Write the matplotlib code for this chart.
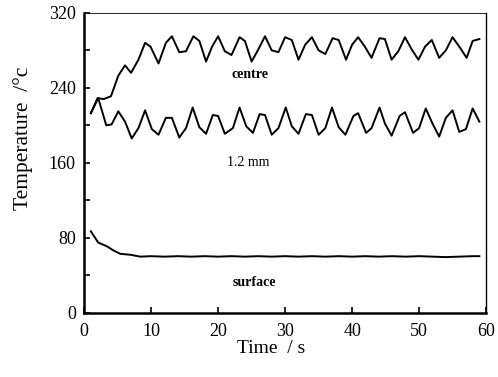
import numpy as np
import matplotlib.pyplot as plt

# centre
t_centre = [1.0, 2.0, 2.9, 4.0, 5.1, 6.1, 7.0, 8.1, 9.1, 9.9, 11.1, 12.2, 13.1, 14.2, 15.2,
            16.3, 17.2, 18.2, 19.1, 20.0, 21.0, 22.0, 23.2, 24.0, 25.0, 26.0, 27.0, 28.0,
            29.0, 30.0, 31.0, 32.0, 33.0, 34.0, 35.0, 36.0, 37.1, 38.0, 39.1, 40.0, 40.9,
            41.9, 42.9, 44.1, 44.9, 45.9, 46.9, 47.9, 48.9, 49.9, 50.9, 51.9, 53.0, 54.0,
            55.0, 56.0, 57.1, 58.0, 59.0]
T_centre = [213, 229, 228, 231, 253, 264, 256, 270, 288, 284, 266, 288, 295, 278, 279,
            295, 290, 268, 284, 295, 279, 275, 294, 290, 268, 281, 295, 280,
            278, 294, 291, 270, 286, 294, 280, 276, 293, 291, 270, 286, 294,
            284, 272, 293, 292, 270, 279, 294, 281, 270, 284, 291, 272, 280,
            294, 284, 272, 290, 292]

# 1.2 mm
t_mid = [1.0, 2.1, 3.3, 4.1, 5.1, 6.1, 7.1, 8.1, 9.1, 10.1, 11.1, 12.2, 13.1, 14.2, 15.2,
         16.2, 17.2, 18.2, 19.2, 20.0, 21.0, 22.2, 23.2, 24.2, 25.2, 26.2, 27.0, 28.0,
         29.0, 30.1, 31.0, 32.0, 33.1, 34.0, 35.0, 36.0, 37.0, 38.0, 39.0, 40.2, 40.9,
         42.1, 42.9, 44.1, 44.9, 45.9, 47.1, 47.9, 49.1, 50.0, 51.0, 52.0, 53.0, 54.0,
         55.0, 56.0, 57.0, 58.0, 59.0]
T_mid = [213, 229, 200, 201, 215, 204, 186, 197, 216, 196, 190, 208, 208, 187, 197,
         219, 198, 191, 211, 210, 191, 197, 219, 199, 192, 212, 211, 190,
         197, 219, 199, 191, 212, 211, 190, 197, 219, 198, 190, 210, 213,
         192, 197, 219, 202, 189, 210, 214, 192, 197, 218, 202, 188, 208,
         216, 193, 196, 218, 204]

# surface
t_surf = [1.0, 2.1, 3.4, 4.4, 5.4, 6.9, 8.4, 9.9, 12, 14, 16, 18, 20, 22, 24, 26, 28,
          30, 32, 34, 36, 38, 40, 42, 44, 46, 48, 50, 52, 54, 56, 58, 59]
T_surf = [87, 75, 71, 66.5, 63, 62, 60, 60.5, 60, 60.5, 60, 60.5, 60, 60.5, 60, 60.5, 60,
          60.5, 60, 60.5, 60, 60.5, 60, 60.5, 60, 60.5, 60, 60.5, 60, 59.5, 60, 60.5, 60.5]

plt.rcParams['font.family'] = ['Liberation Serif', 'DejaVu Serif']

fig = plt.figure(figsize=(4.98, 3.77), dpi=100)
ax = fig.add_axes([0.169, 0.170, 0.807, 0.796])

ax.plot(t_centre, T_centre, color='black', lw=1.4)
ax.plot(t_mid, T_mid, color='black', lw=1.4)
ax.plot(t_surf, T_surf, color='black', lw=1.4)

ax.text(24.8, 254, 'centre', fontsize=10, fontweight='bold', ha='center', va='center')
ax.text(24.5, 160, '1.2 mm', fontsize=10, ha='center', va='center')
ax.text(25.4, 32, 'surface', fontsize=10, fontweight='bold', ha='center', va='center')

ax.set_xlim(0, 60)
ax.set_ylim(0, 320)
ax.set_xticks(np.arange(0, 61, 10))
ax.set_yticks(np.arange(0, 321, 80))
ax.set_yticks(np.arange(40, 320, 80), minor=True)
ax.tick_params(axis='both', which='both', direction='in', labelsize=13, length=4, width=1.2)
ax.tick_params(axis='x', pad=7)
ax.tick_params(axis='y', pad=6)

ax.spines['left'].set_linewidth(1.8)
ax.spines['bottom'].set_linewidth(1.8)
ax.spines['right'].set_linewidth(1.0)
ax.spines['top'].set_linewidth(0.6)

ax.set_xlabel('Time  / s', fontsize=14)
ax.set_ylabel('Temperature  /\u00b0c', fontsize=15.5)
ax.xaxis.set_label_coords(0.465, -0.09)
ax.yaxis.set_label_coords(-0.128, 0.583)

fig.savefig('out.png', dpi=100)
